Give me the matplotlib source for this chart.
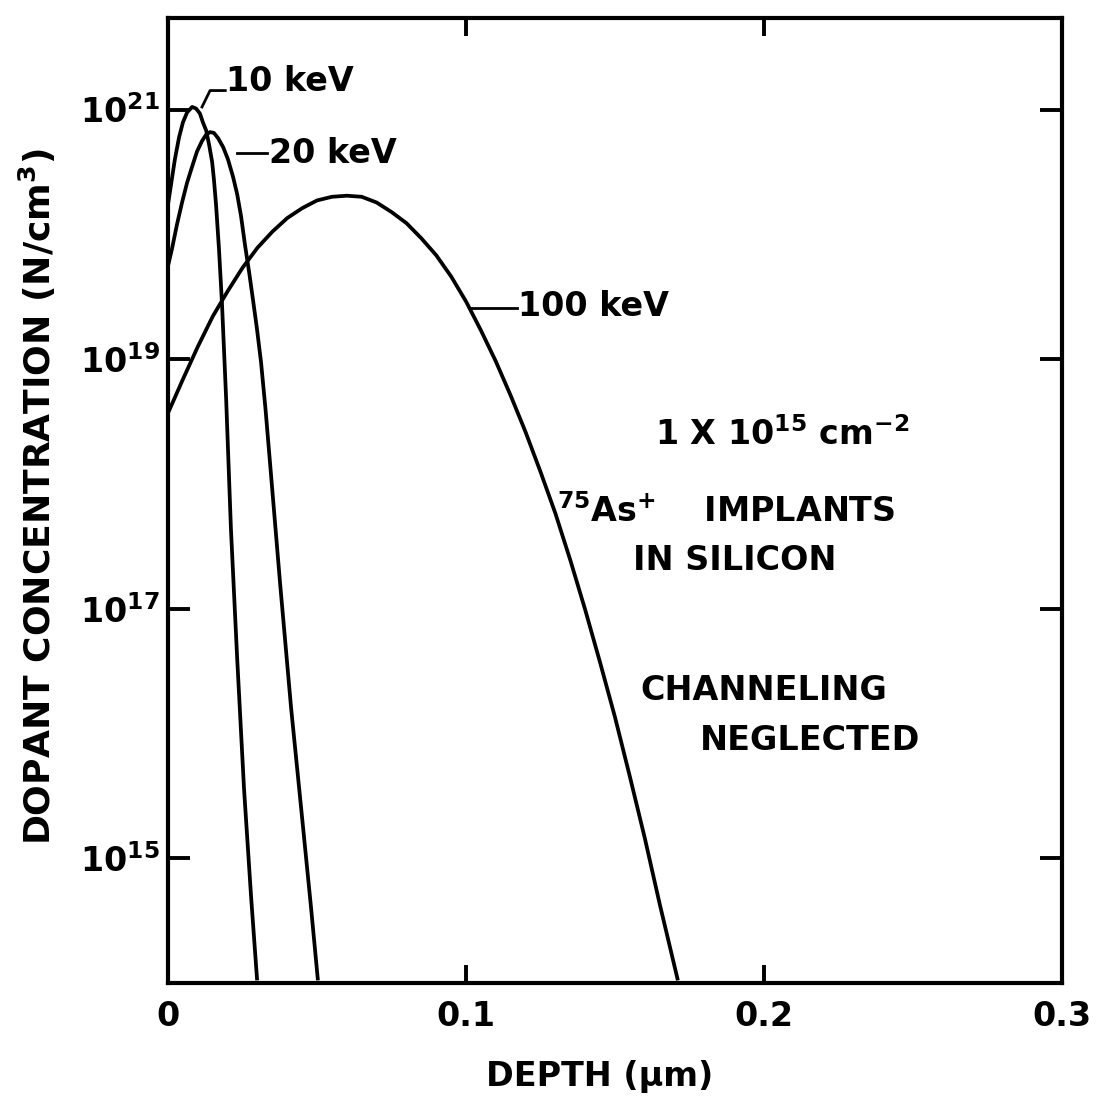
import matplotlib
matplotlib.use("Agg")
import matplotlib.pyplot as plt
from matplotlib.transforms import ScaledTranslation

plt.rcParams['font.family'] = ['DejaVu Sans']
plt.rcParams['font.weight'] = 'bold'
plt.rcParams['mathtext.fontset'] = 'dejavusans'
plt.rcParams['mathtext.default'] = 'bf'

# depth in micrometres, concentration in N/cm^3
depth_10kev = [0.0000, 0.0010, 0.0023, 0.0037, 0.0050, 0.0064, 0.0081, 0.0094,
               0.0107, 0.0117, 0.0128, 0.0138, 0.0148, 0.0154, 0.0161,
               0.0171, 0.0181, 0.0195, 0.0211, 0.0232, 0.0255, 0.0279, 0.0299]
conc_10kev = [1.74e20, 2.5e20, 4.0e20, 6.0e20, 7.9e20, 9.5e20, 1.05e21, 1.02e21,
              9.3e20, 7.9e20, 6.8e20, 5.2e20, 3.8e20, 2.75e20, 1.74e20,
              7.6e19, 2.8e19, 4.8e18, 4.4e17, 4.0e16, 3.6e15, 4.8e14, 1.05e14]

depth_20kev = [0.0000, 0.0013, 0.0030, 0.0047, 0.0064, 0.0081, 0.0097, 0.0114,
               0.0128, 0.0141, 0.0154, 0.0168, 0.0185, 0.0201, 0.0218,
               0.0232, 0.0245, 0.0258, 0.0272, 0.0285, 0.0298, 0.0312,
               0.0327, 0.0342, 0.0376, 0.0413, 0.0450, 0.0480, 0.0503]
conc_20kev = [5.6e19, 7.6e19, 1.2e20, 1.8e20, 2.6e20, 3.5e20, 4.6e20, 5.6e20,
              6.3e20, 6.6e20, 6.5e20, 5.9e20, 5.0e20, 4.0e20, 2.9e20,
              2.1e20, 1.4e20, 8.3e19, 5.0e19, 3.0e19, 1.78e19, 9.5e18,
              4.0e18, 1.5e18, 1.6e17, 1.6e16, 2.1e15, 4.0e14, 1.05e14]

depth_100kev = [0.000, 0.005, 0.010, 0.015, 0.020, 0.025, 0.030, 0.035, 0.040,
                0.045, 0.050, 0.055, 0.060, 0.065, 0.070, 0.075, 0.080,
                0.085, 0.090, 0.095, 0.100, 0.105, 0.110, 0.115, 0.120,
                0.125, 0.130, 0.135, 0.140, 0.145, 0.150, 0.155, 0.160,
                0.165, 0.1711]
conc_100kev = [3.7e18, 6.9e18, 1.26e19, 2.2e19, 3.5e19, 5.4e19, 7.8e19,
               1.05e20, 1.35e20, 1.62e20, 1.87e20, 2.0e20, 2.04e20, 2.0e20,
               1.8e20, 1.51e20, 1.23e20, 9.3e19, 6.8e19, 4.6e19, 2.9e19,
               1.7e19, 9.6e18, 5.1e18, 2.6e18, 1.25e18, 5.8e17, 2.45e17,
               9.8e16, 3.7e16, 1.35e16, 4.5e15, 1.45e15, 4.3e14, 1.05e14]

x_ticks = [0, 0.1, 0.2, 0.3]
x_ticklabels = ['0', '0.1', '0.2', '0.3']
y_ticks = [1e15, 1e17, 1e19, 1e21]
y_ticklabels = [r'$10^{15}$', r'$10^{17}$', r'$10^{19}$', r'$10^{21}$']

fig = plt.figure(figsize=(10.99, 11.09), dpi=100)
ax = fig.add_axes([0.1529, 0.1136, 0.8134, 0.870])

for d, c in [(depth_10kev, conc_10kev), (depth_20kev, conc_20kev),
             (depth_100kev, conc_100kev)]:
    ax.plot(d, c, color='black', lw=2.7, solid_capstyle='butt',
            solid_joinstyle='round')

ax.set_yscale('log')
ax.set_xlim(0, 0.3)
ax.set_ylim(1e14, 5.4e21)

ax.set_xticks(x_ticks)
ax.set_xticklabels(x_ticklabels, fontsize=24, fontweight='bold')
ax.set_yticks(y_ticks)
ax.set_yticklabels(y_ticklabels, fontsize=24)
ax.yaxis.set_minor_locator(matplotlib.ticker.NullLocator())
# the scanned labels sit a little below their ticks
shift = ScaledTranslation(0, -6 / 72, fig.dpi_scale_trans)
for lab in ax.get_yticklabels():
    lab.set_transform(lab.get_transform() + shift)

ax.tick_params(axis='x', direction='in', length=13, width=2.8, pad=12,
               top=True, bottom=True)
ax.tick_params(axis='y', direction='in', length=16, width=2.8, pad=6,
               left=True, right=True)
for s in ax.spines.values():
    s.set_linewidth(3)

ax.set_xlabel(u'DEPTH (\u03bcm)', fontsize=24, fontweight='bold')
ax.xaxis.set_label_coords(0.483, -0.080)
ax.set_ylabel(r'DOPANT CONCENTRATION (N/cm$^{3}$)', fontsize=26,
              fontweight='bold')
ax.yaxis.set_label_coords(-0.123, 0.504)

# curve labels with leader lines
kw = dict(transform=ax.transAxes, fontsize=24, fontweight='bold', va='center')
ax.text(0.0650, 0.934, '10 keV', **kw)
ax.plot([0.038, 0.047, 0.064], [0.908, 0.925, 0.925], color='black', lw=2,
        transform=ax.transAxes)
ax.text(0.113, 0.860, '20 keV', **kw)
ax.plot([0.0772, 0.1107], [0.860, 0.860], color='black', lw=2,
        transform=ax.transAxes)
ax.text(0.391, 0.7016, '100 keV', **kw)
ax.plot([0.338, 0.390], [0.6995, 0.6995], color='black', lw=2,
        transform=ax.transAxes)

kw = dict(transform=ax.transAxes, fontsize=24, fontweight='bold', va='baseline')
ax.text(0.545, 0.5575, r'$1\ X\ 10^{15}\ cm^{-2}$', **kw)
ax.text(0.435, 0.478, r'$^{75}As^{+}$    IMPLANTS', **kw)
ax.text(0.520, 0.428, 'IN SILICON', **kw)
ax.text(0.528, 0.293, 'CHANNELING', **kw)
ax.text(0.595, 0.2415, 'NEGLECTED', **kw)

plt.savefig('out.png', dpi=100)
